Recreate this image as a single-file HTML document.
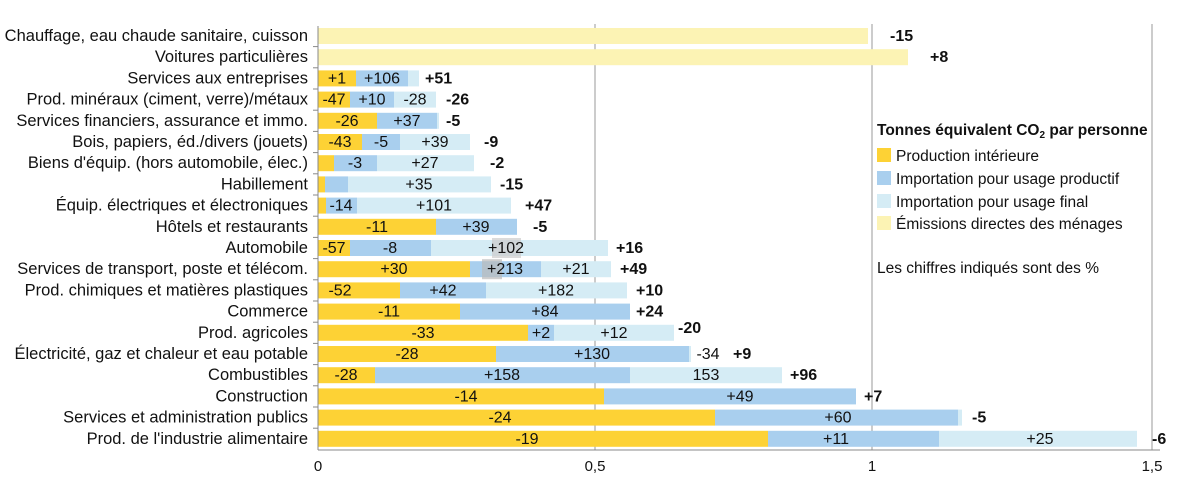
<!DOCTYPE html>
<html><head><meta charset="utf-8"><style>
body{margin:0;background:#fff}
svg{display:block;font-family:"Liberation Sans",sans-serif}
.l{text-anchor:end;font-size:16.5px}
.c{text-anchor:middle;font-size:16px}
.b{font-weight:bold;font-size:16px}
</style></head><body>
<svg width="1197" height="488" viewBox="0 0 1197 488" xmlns="http://www.w3.org/2000/svg" fill="#111">
<g stroke="#bbb" stroke-width="1.5">
<line x1="595" y1="24" x2="595" y2="450"/><line x1="872" y1="24" x2="872" y2="450"/><line x1="1152" y1="24" x2="1152" y2="450"/>
</g>

<g transform="translate(0,36)"><text class="l" x="308" y="5">Chauffage, eau chaude sanitaire, cuisson</text>
<rect x="318" y="-8" width="550" height="16" fill="#FCF3B4"/><text class="b" x="890" y="5">-15</text></g>

<g transform="translate(0,57.2)"><text class="l" x="308" y="5">Voitures particulières</text>
<rect x="318" y="-8" width="590" height="16" fill="#FCF3B4"/><text class="b" x="930" y="5">+8</text></g>

<g transform="translate(0,78.4)"><text class="l" x="308" y="5">Services aux entreprises</text>
<rect x="318" y="-8" width="38" height="16" fill="#FDD235"/><rect x="356" y="-8" width="52" height="16" fill="#A9CFEE"/><rect x="408" y="-8" width="11" height="16" fill="#D5ECF5"/>
<text class="c" x="337" y="5">+1</text><text class="c" x="382" y="5">+106</text><text class="b" x="425" y="5">+51</text></g>

<g transform="translate(0,99.6)"><text class="l" x="308" y="5">Prod. minéraux (ciment, verre)/métaux</text>
<rect x="318" y="-8" width="32" height="16" fill="#FDD235"/><rect x="350" y="-8" width="44" height="16" fill="#A9CFEE"/><rect x="394" y="-8" width="42" height="16" fill="#D5ECF5"/>
<text class="c" x="334" y="5">-47</text><text class="c" x="372" y="5">+10</text><text class="c" x="415" y="5">-28</text><text class="b" x="446" y="5">-26</text></g>

<g transform="translate(0,120.8)"><text class="l" x="308" y="5">Services financiers, assurance et immo.</text>
<rect x="318" y="-8" width="59" height="16" fill="#FDD235"/><rect x="377" y="-8" width="60" height="16" fill="#A9CFEE"/><rect x="437" y="-8" width="2" height="16" fill="#D5ECF5"/>
<text class="c" x="347" y="5">-26</text><text class="c" x="407" y="5">+37</text><text class="b" x="446" y="5">-5</text></g>

<g transform="translate(0,142)"><text class="l" x="308" y="5">Bois, papiers, éd./divers (jouets)</text>
<rect x="318" y="-8" width="44" height="16" fill="#FDD235"/><rect x="362" y="-8" width="38" height="16" fill="#A9CFEE"/><rect x="400" y="-8" width="70" height="16" fill="#D5ECF5"/>
<text class="c" x="340" y="5">-43</text><text class="c" x="381" y="5">-5</text><text class="c" x="435" y="5">+39</text><text class="b" x="484" y="5">-9</text></g>

<g transform="translate(0,163.2)"><text class="l" x="308" y="5">Biens d'équip. (hors automobile, élec.)</text>
<rect x="318" y="-8" width="16" height="16" fill="#FDD235"/><rect x="334" y="-8" width="43" height="16" fill="#A9CFEE"/><rect x="377" y="-8" width="97" height="16" fill="#D5ECF5"/>
<text class="c" x="355" y="5">-3</text><text class="c" x="425" y="5">+27</text><text class="b" x="490" y="5">-2</text></g>

<g transform="translate(0,184.4)"><text class="l" x="308" y="5">Habillement</text>
<rect x="318" y="-8" width="7" height="16" fill="#FDD235"/><rect x="325" y="-8" width="23" height="16" fill="#A9CFEE"/><rect x="348" y="-8" width="143" height="16" fill="#D5ECF5"/>
<text class="c" x="419" y="5">+35</text><text class="b" x="500" y="5">-15</text></g>

<g transform="translate(0,205.6)"><text class="l" x="308" y="5">Équip. électriques et électroniques</text>
<rect x="318" y="-8" width="8" height="16" fill="#FDD235"/><rect x="326" y="-8" width="31" height="16" fill="#A9CFEE"/><rect x="357" y="-8" width="154" height="16" fill="#D5ECF5"/>
<text class="c" x="341" y="5">-14</text><text class="c" x="434" y="5">+101</text><text class="b" x="525" y="5">+47</text></g>

<g transform="translate(0,226.8)"><text class="l" x="308" y="5">Hôtels et restaurants</text>
<rect x="318" y="-8" width="118" height="16" fill="#FDD235"/><rect x="436" y="-8" width="81" height="16" fill="#A9CFEE"/>
<text class="c" x="377" y="5">-11</text><text class="c" x="476" y="5">+39</text><text class="b" x="533" y="5">-5</text></g>

<g transform="translate(0,248)"><text class="l" x="308" y="5">Automobile</text>
<rect x="318" y="-8" width="32" height="16" fill="#FDD235"/><rect x="350" y="-8" width="81" height="16" fill="#A9CFEE"/><rect x="431" y="-8" width="177" height="16" fill="#D5ECF5"/>
<rect x="492" y="-10" width="29" height="20" fill="#ccc" opacity="0.7"/>
<text class="c" x="506" y="5">+102</text><text class="c" x="334" y="5">-57</text><text class="c" x="390" y="5">-8</text><text class="b" x="616" y="5">+16</text></g>

<g transform="translate(0,269.2)"><text class="l" x="308" y="5">Services de transport, poste et télécom.</text>
<rect x="318" y="-8" width="152" height="16" fill="#FDD235"/><rect x="470" y="-8" width="71" height="16" fill="#A9CFEE"/><rect x="541" y="-8" width="70" height="16" fill="#D5ECF5"/>
<rect x="482" y="-10" width="20" height="20" fill="#bbb" opacity="0.7"/>
<text class="c" x="394" y="5">+30</text><text class="c" x="505" y="5">+213</text><text class="c" x="576" y="5">+21</text><text class="b" x="620" y="5">+49</text></g>

<g transform="translate(0,290.4)"><text class="l" x="308" y="5">Prod. chimiques et matières plastiques</text>
<rect x="318" y="-8" width="82" height="16" fill="#FDD235"/><rect x="400" y="-8" width="86" height="16" fill="#A9CFEE"/><rect x="486" y="-8" width="141" height="16" fill="#D5ECF5"/>
<text class="c" x="340" y="5">-52</text><text class="c" x="443" y="5">+42</text><text class="c" x="556" y="5">+182</text><text class="b" x="636" y="5">+10</text></g>

<g transform="translate(0,311.6)"><text class="l" x="308" y="5">Commerce</text>
<rect x="318" y="-8" width="142" height="16" fill="#FDD235"/><rect x="460" y="-8" width="170" height="16" fill="#A9CFEE"/>
<text class="c" x="389" y="5">-11</text><text class="c" x="545" y="5">+84</text><text class="b" x="636" y="5">+24</text></g>

<g transform="translate(0,332.8)"><text class="l" x="308" y="5">Prod. agricoles</text>
<rect x="318" y="-8" width="210" height="16" fill="#FDD235"/><rect x="528" y="-8" width="26" height="16" fill="#A9CFEE"/><rect x="554" y="-8" width="120" height="16" fill="#D5ECF5"/>
<text class="c" x="423" y="5">-33</text><text class="c" x="541" y="5">+2</text><text class="c" x="614" y="5">+12</text><text class="b" x="678" y="0">-20</text></g>

<g transform="translate(0,354)"><text class="l" x="308" y="5">Électricité, gaz et chaleur et eau potable</text>
<rect x="318" y="-8" width="178" height="16" fill="#FDD235"/><rect x="496" y="-8" width="193" height="16" fill="#A9CFEE"/><rect x="689" y="-8" width="2" height="16" fill="#D5ECF5"/>
<text class="c" x="407" y="5">-28</text><text class="c" x="592" y="5">+130</text><text class="c" x="708" y="5">-34</text><text class="b" x="733" y="5">+9</text></g>

<g transform="translate(0,375.2)"><text class="l" x="308" y="5">Combustibles</text>
<rect x="318" y="-8" width="57" height="16" fill="#FDD235"/><rect x="375" y="-8" width="255" height="16" fill="#A9CFEE"/><rect x="630" y="-8" width="152" height="16" fill="#D5ECF5"/>
<text class="c" x="346" y="5">-28</text><text class="c" x="502" y="5">+158</text><text class="c" x="706" y="5">153</text><text class="b" x="790" y="5">+96</text></g>

<g transform="translate(0,396.4)"><text class="l" x="308" y="5">Construction</text>
<rect x="318" y="-8" width="286" height="16" fill="#FDD235"/><rect x="604" y="-8" width="252" height="16" fill="#A9CFEE"/>
<text class="c" x="466" y="5">-14</text><text class="c" x="740" y="5">+49</text><text class="b" x="864" y="5">+7</text></g>

<g transform="translate(0,417.6)"><text class="l" x="308" y="5">Services et administration publics</text>
<rect x="318" y="-8" width="397" height="16" fill="#FDD235"/><rect x="715" y="-8" width="243" height="16" fill="#A9CFEE"/><rect x="958" y="-8" width="4" height="16" fill="#D5ECF5"/>
<text class="c" x="500" y="5">-24</text><text class="c" x="838" y="5">+60</text><text class="b" x="972" y="5">-5</text></g>

<g transform="translate(0,438.8)"><text class="l" x="308" y="5">Prod. de l'industrie alimentaire</text>
<rect x="318" y="-8" width="450" height="16" fill="#FDD235"/><rect x="768" y="-8" width="171" height="16" fill="#A9CFEE"/><rect x="939" y="-8" width="198" height="16" fill="#D5ECF5"/>
<text class="c" x="527" y="5">-19</text><text class="c" x="836" y="5">+11</text><text class="c" x="1040" y="5">+25</text><text class="b" x="1152" y="5">-6</text></g>

<g stroke="#888">
<line x1="318" y1="26" x2="318" y2="450"/>
<line x1="318" y1="450" x2="1160" y2="450"/>
<line x1="313" x2="318" y1="46.6" y2="46.6"/><line x1="313" x2="318" y1="67.8" y2="67.8"/><line x1="313" x2="318" y1="89" y2="89"/><line x1="313" x2="318" y1="110.2" y2="110.2"/><line x1="313" x2="318" y1="131.4" y2="131.4"/><line x1="313" x2="318" y1="152.6" y2="152.6"/><line x1="313" x2="318" y1="173.8" y2="173.8"/><line x1="313" x2="318" y1="195" y2="195"/><line x1="313" x2="318" y1="216.2" y2="216.2"/><line x1="313" x2="318" y1="237.4" y2="237.4"/><line x1="313" x2="318" y1="258.6" y2="258.6"/><line x1="313" x2="318" y1="279.8" y2="279.8"/><line x1="313" x2="318" y1="301" y2="301"/><line x1="313" x2="318" y1="322.2" y2="322.2"/><line x1="313" x2="318" y1="343.4" y2="343.4"/><line x1="313" x2="318" y1="364.6" y2="364.6"/><line x1="313" x2="318" y1="385.8" y2="385.8"/><line x1="313" x2="318" y1="407" y2="407"/><line x1="313" x2="318" y1="428.2" y2="428.2"/>
</g>
<g font-size="15" text-anchor="middle">
<text x="318" y="471">0</text><text x="595" y="471">0,5</text><text x="872" y="471">1</text><text x="1152" y="471">1,5</text>
</g>
<g font-size="15.5">
<text x="877" y="135" font-weight="bold">Tonnes équivalent CO<tspan font-size="10" dy="3">2</tspan><tspan dy="-3"> par personne</tspan></text>
<rect x="877" y="148" width="14" height="14" fill="#FDD235"/><text x="896" y="161">Production intérieure</text>
<rect x="877" y="171" width="14" height="14" fill="#A9CFEE"/><text x="896" y="184">Importation pour usage productif</text>
<rect x="877" y="194" width="14" height="14" fill="#D5ECF5"/><text x="896" y="207">Importation pour usage final</text>
<rect x="877" y="216" width="14" height="14" fill="#FCF3B4"/><text x="896" y="229">Émissions directes des ménages</text>
<text x="877" y="273">Les chiffres indiqués sont des %</text>
</g>
</svg>
</body></html>
